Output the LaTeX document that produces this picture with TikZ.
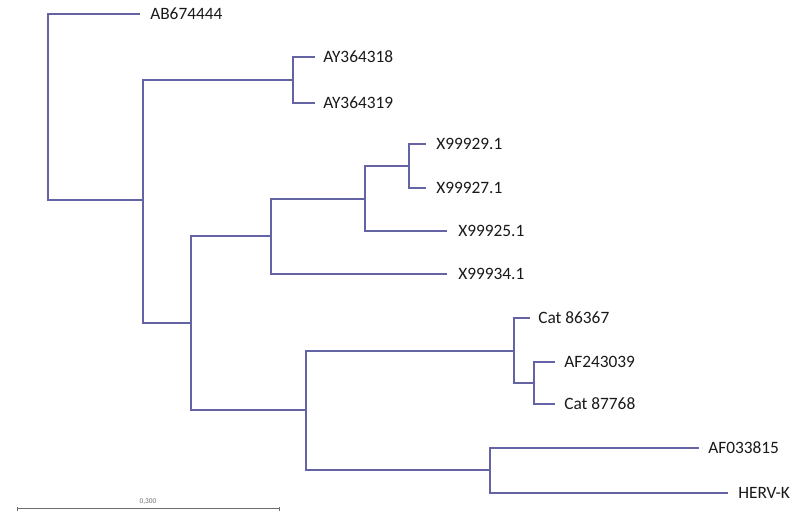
\documentclass[tikz,border=0pt]{standalone}
\usepackage{fontspec}
\setmainfont{Carlito}
\definecolor{branch}{RGB}{100,100,165}
\definecolor{scalegray}{RGB}{110,110,110}
\begin{document}
\begin{tikzpicture}[x=0.75pt,y=-0.75pt,
  br/.style={draw=branch,line width=0.8pt},
  lbl/.style={anchor=west,inner sep=0pt,font=\fontsize{13}{15}\selectfont,text=black!90}]
\useasboundingbox (0,0) rectangle (794,511);
% internal nodes
\coordinate (r) at (48,107);
\coordinate (n1) at (143,200);
\coordinate (n2) at (293,80);
\coordinate (n3) at (191,323);
\coordinate (n4) at (271,236);
\coordinate (n5) at (365,199);
\coordinate (n6) at (409,166);
\coordinate (n7) at (306,410);
\coordinate (n8) at (514,351);
\coordinate (n9) at (534,383);
\coordinate (n10) at (490,470);
% leaf tips
\coordinate (tAB) at (140,14);
\coordinate (tAY1) at (315,57);
\coordinate (tAY2) at (315,103);
\coordinate (tX29) at (426,144);
\coordinate (tX27) at (426,188);
\coordinate (tX25) at (447,231);
\coordinate (tX34) at (447,274);
\coordinate (tC1) at (530,318);
\coordinate (tAF2) at (555,362);
\coordinate (tC2) at (555,404);
\coordinate (tAF0) at (699,448);
\coordinate (tH) at (728,493);
% labels
\node[lbl] (lAB) at (150,14) {AB674444};
\node[lbl] (lAY1) at (323,57) {AY364318};
\node[lbl] (lAY2) at (323,103) {AY364319};
\node[lbl] (lX29) at (436,144) {X99929.1};
\node[lbl] (lX27) at (436,188) {X99927.1};
\node[lbl] (lX25) at (458,231) {X99925.1};
\node[lbl] (lX34) at (458,274) {X99934.1};
\node[lbl] (lC1) at (538,318) {Cat 86367};
\node[lbl] (lAF2) at (564,362) {AF243039};
\node[lbl] (lC2) at (564,404) {Cat 87768};
\node[lbl] (lAF0) at (708,448) {AF033815};
\node[lbl] (lH) at (738,493) {HERV-K};
% branches
\draw[br] (r) |- (tAB);
\draw[br] (r) |- (n1);
\draw[br] (n1) |- (n2);
\draw[br] (n1) |- (n3);
\draw[br] (n2) |- (tAY1);
\draw[br] (n2) |- (tAY2);
\draw[br] (n3) |- (n4);
\draw[br] (n3) |- (n7);
\draw[br] (n4) |- (n5);
\draw[br] (n4) |- (tX34);
\draw[br] (n5) |- (n6);
\draw[br] (n5) |- (tX25);
\draw[br] (n6) |- (tX29);
\draw[br] (n6) |- (tX27);
\draw[br] (n7) |- (n8);
\draw[br] (n7) |- (n10);
\draw[br] (n8) |- (tC1);
\draw[br] (n8) |- (n9);
\draw[br] (n9) |- (tAF2);
\draw[br] (n9) |- (tC2);
\draw[br] (n10) |- (tAF0);
\draw[br] (n10) |- (tH);
% scale bar
\coordinate (sbL) at (17,508);
\coordinate (sbR) at (279,508);
\draw[scalegray,line width=0.7pt] (sbL) -- (sbR);
\draw[scalegray,line width=0.7pt] ([yshift=-2pt]sbL) -- ([yshift=1pt]sbL);
\draw[scalegray,line width=0.7pt] ([yshift=-2pt]sbR) -- ([yshift=1pt]sbR);
\node[font=\fontsize{5.5}{6}\selectfont,text=scalegray,inner sep=0pt] (sbl) at (148,502) {0,300};
\end{tikzpicture}
\end{document}
